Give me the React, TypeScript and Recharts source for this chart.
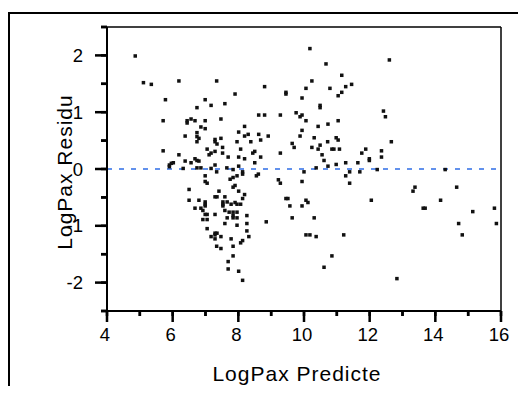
import { ScatterChart, Scatter, XAxis, YAxis, ReferenceLine } from "recharts";

// LogPax predicted value (x) and residual (y)
const predicted = [
  4.86, 5.11, 5.35, 6.19, 7.34, 5.78, 6.99, 7.17, 7.59, 6.74,
  5.71, 6.44, 6.44, 6.56, 6.68, 6.99, 7.47, 6.86, 6.99, 6.74,
  6.74, 6.8, 6.38, 6.74, 7.29, 7.29, 7.35, 7.47, 7.52, 5.71,
  7.05, 7.17, 7.11, 7.29, 7.52, 6.19, 7.69, 6.02, 5.96, 5.9,
  5.9, 6.38, 6.56, 6.68, 6.74, 6.8, 7.29, 6.32, 6.74, 6.86,
  7.17, 7.65, 7.34, 6.99, 6.99, 7.05, 7.75, 6.5, 7.41, 7.29,
  7.35, 7.59, 6.5, 6.8, 6.99, 6.99, 6.99, 7.53, 7.66, 7.53,
  7.53, 6.68, 6.86, 6.92, 7.59, 7.72, 6.99, 7.05, 7.29, 6.92,
  7.05, 7.66, 7.59, 7.05, 7.29, 7.35, 7.29, 7.17, 7.29, 7.47,
  7.34, 7.47, 7.69, 7.69,
  10.18, 10.67, 10.24, 8.8, 7.9, 9.45, 9.45, 10.06, 10.79, 11.04,
  9.94, 10.49, 10.49, 8.62, 8.8, 9.28, 9.76, 9.94, 9.88, 10.06,
  11.04, 8.19, 8.01, 8.62, 8.3, 8.19, 8.91, 8.68, 7.96, 8.38,
  9.94, 10.43, 10.73, 9.88, 10.31, 10.98, 11.04, 10.72, 9.64, 9.7,
  10.49, 10.43, 10.24, 10.85, 10.91, 11.08, 8.07, 8.5, 8.44, 9.28,
  10.55, 8.01, 8.68, 8.19, 10.61, 8.5, 8.01, 10.98, 10.73, 10.37,
  7.84, 8.13, 8.13, 8.61, 8.55, 10.0, 7.96, 7.84, 9.22, 9.28,
  9.94, 7.9, 7.84, 8.01, 8.19, 8.13, 9.45, 9.51, 10.06, 10.12,
  7.78, 7.9, 7.96, 8.07, 9.57, 9.94, 7.84, 7.96, 7.84, 7.96,
  7.84, 8.26, 9.64, 10.31, 7.96, 8.26, 8.85, 8.26, 8.32, 10.06,
  10.18, 10.37, 7.78, 8.13, 8.07, 7.84, 7.84, 10.85, 8.01, 10.61,
  8.13,
  12.6, 11.15, 11.45, 11.27, 11.15, 12.42, 12.48, 12.66, 11.88, 11.76,
  12.36, 12.36, 11.99, 11.99, 11.27, 11.64, 12.23, 14.3, 11.39, 11.27,
  11.39, 11.7, 13.38, 13.32, 14.65, 12.05, 14.16, 13.63, 13.69, 15.14,
  15.8, 14.71, 15.86, 11.21, 14.82, 12.83,
];

const residual = [
  1.99, 1.52, 1.49, 1.55, 1.55, 1.22, 1.22, 1.12, 1.15, 1.08,
  0.85, 0.85, 0.81, 0.88, 0.85, 0.85, 0.88, 0.74, 0.71, 0.64,
  0.57, 0.54, 0.58, 0.48, 0.52, 0.48, 0.44, 0.54, 0.38, 0.32,
  0.35, 0.28, 0.25, 0.31, 0.28, 0.25, 0.21, 0.11, 0.1, 0.07,
  0.04, 0.14, 0.11, 0.18, 0.15, 0.14, 0.07, 0.01, 0.02, 0.02,
  0.01, 0.02, -0.05, -0.12, -0.22, -0.25, -0.18, -0.36, -0.39, -0.49,
  -0.49, -0.49, -0.55, -0.55, -0.58, -0.62, -0.65, -0.58, -0.58, -0.62,
  -0.65, -0.69, -0.69, -0.73, -0.73, -0.76, -0.8, -0.8, -0.8, -0.89,
  -0.89, -0.86, -0.96, -1.05, -1.13, -1.13, -1.16, -1.19, -1.23, -1.19,
  -1.36, -1.4, -1.63, -1.76,
  2.12, 1.85, 1.55, 1.45, 1.32, 1.35, 1.32, 1.42, 1.42, 1.29,
  1.25, 1.12, 1.08, 0.95, 0.95, 0.95, 0.99, 0.95, 0.92, 0.85,
  0.85, 0.75, 0.65, 0.61, 0.61, 0.58, 0.58, 0.51, 0.48, 0.48,
  0.68, 0.75, 0.79, 0.58, 0.55, 0.55, 0.51, 0.48, 0.45, 0.38,
  0.42, 0.35, 0.38, 0.35, 0.35, 0.35, 0.35, 0.31, 0.28, 0.28,
  0.25, 0.21, 0.21, 0.18, 0.15, 0.11, 0.05, 0.08, 0.05, 0.02,
  -0.01, -0.05, -0.09, -0.09, -0.12, -0.05, -0.12, -0.15, -0.19, -0.25,
  -0.22, -0.29, -0.32, -0.39, -0.45, -0.52, -0.52, -0.52, -0.55, -0.59,
  -0.62, -0.59, -0.62, -0.62, -0.65, -0.65, -0.76, -0.76, -0.86, -0.86,
  -0.82, -0.82, -0.86, -0.86, -0.99, -0.96, -0.93, -1.09, -1.19, -1.16,
  -1.16, -1.19, -1.23, -1.26, -1.3, -1.36, -1.53, -1.53, -1.8, -1.73,
  -1.96,
  1.92, 1.65, 1.49, 1.45, 1.35, 1.02, 0.92, 0.48, 0.35, 0.28,
  0.32, 0.21, 0.18, 0.15, 0.11, 0.11, -0.01, -0.01, -0.05, -0.12,
  -0.25, -0.05, -0.32, -0.39, -0.32, -0.55, -0.55, -0.69, -0.69, -0.75,
  -0.69, -0.96, -0.96, -1.16, -1.16, -1.93,
];

const xTicks = [4, 5, 6, 7, 8, 9, 10, 11, 12, 13, 14, 15, 16];
const xLabelled = [4, 6, 8, 10, 12, 14, 16];
const yTicks = [-2.5, -2, -1.5, -1, -0.5, 0, 0.5, 1, 1.5, 2, 2.5];
const yLabelled = [-2, -1, 0, 1, 2];

const data = predicted.map((x, i) => ({ x, y: residual[i] }));

const font = '"Liberation Sans", Arial, sans-serif';

// tick props: x/y arrive offset from the axis by tickSize + tickMargin
const X_OFF = 17;
const Y_OFF = 24;

const XTick = (props: any) => {
  const { x, y, payload } = props;
  const major = xLabelled.includes(payload.value);
  const axisY = y - X_OFF;
  return (
    <g>
      <rect x={x - 1.25} y={axisY} width={2.5} height={major ? 11 : 5} fill="#000" />
      {major && (
        <text x={x - 2} y={y} dy="0.71em" textAnchor="middle" fontSize={18.5} fontFamily={font} fill="#000">
          {payload.value}
        </text>
      )}
    </g>
  );
};

const YTick = (props: any) => {
  const { x, y, payload } = props;
  const major = yLabelled.includes(payload.value);
  const axisX = x + Y_OFF;
  const len = major ? 12 : 6;
  return (
    <g>
      <rect x={axisX - len} y={y - 1.25} width={len} height={2.5} fill="#000" />
      {major && (
        <text x={x} y={y} dy="0.355em" textAnchor="end" fontSize={18.5} fontFamily={font} fill="#000">
          {payload.value}
        </text>
      )}
    </g>
  );
};

const Dot = (props: any) => (
  <rect x={props.cx - 1.75} y={props.cy - 1.75} width={3.5} height={3.5} fill="#111" />
);

export default function App() {
  return (
    <div style={{ position: "relative", width: 526, height: 394, margin: -8, overflow: "hidden", background: "#fff" }}>
      <svg width={526} height={394} style={{ position: "absolute", left: 0, top: 0 }}>
        <path d="M9 394 V13 H526" fill="none" stroke="#000" strokeWidth={2} />
        <text x={297} y={381} textAnchor="middle" fontSize={21} letterSpacing={1} fontFamily={font} fill="#000">
          LogPax Predicte
        </text>
        <text
          x={72}
          y={172}
          transform="rotate(-90, 72, 172)"
          textAnchor="middle"
          fontSize={21}
          letterSpacing={1}
          fontFamily={font}
          fill="#000"
        >
          LogPax Residu
        </text>
      </svg>
      <div style={{ position: "absolute", left: 0, top: 0 }}>
        <ScatterChart width={526} height={394} margin={{ top: 27, right: 25, left: 0, bottom: 0 }}>
          <XAxis
            type="number"
            dataKey="x"
            domain={[4, 16]}
            ticks={xTicks}
            interval={0}
            height={83}
            tickSize={5}
            tickMargin={12}
            tickLine={{ stroke: "#000", strokeWidth: 2.5 }}
            tick={<XTick />}
            axisLine={{ stroke: "#000", strokeWidth: 2 }}
          />
          <YAxis
            type="number"
            dataKey="y"
            domain={[-2.5, 2.5]}
            ticks={yTicks}
            interval={0}
            width={107}
            tickSize={6}
            tickMargin={18}
            tickLine={{ stroke: "#000", strokeWidth: 2.5 }}
            tick={<YTick />}
            axisLine={{ stroke: "#000", strokeWidth: 2 }}
          />
          <ReferenceLine y={2.5} stroke="#000" strokeWidth={1.5} />
          <ReferenceLine x={16} stroke="#000" strokeWidth={1.5} />
          <ReferenceLine y={0} stroke="#2f6ee6" strokeWidth={1.6} strokeDasharray="5 7" />
          <Scatter data={data} fill="#111" shape={<Dot />} isAnimationActive={false} />
        </ScatterChart>
      </div>
    </div>
  );
}
